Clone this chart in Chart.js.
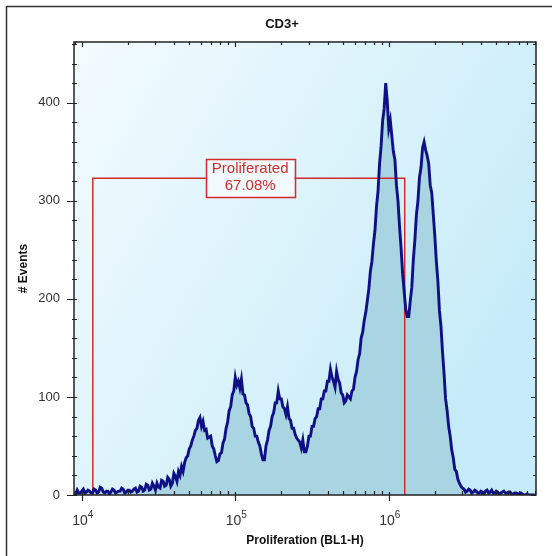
<!DOCTYPE html>
<html>
<head>
<meta charset="utf-8">
<script src="https://cdn.jsdelivr.net/npm/chart.js@4.4.1/dist/chart.umd.min.js"></script>
<style>
  html, body { margin: 0; padding: 0; background: #fff; }
  #wrap { position: relative; width: 552px; height: 556px; }
</style>
</head>
<body>
<div id="wrap"><canvas id="chart" width="552" height="556"></canvas></div>
<script>
const chartTitle = "CD3+";
const xTitle = "Proliferation (BL1-H)";
const yTitle = "# Events";

// histogram bins: first bin at 10^3.95, one bin every 0.01 decade
const binStartLog = 3.95;
const binWidthLog = 0.01;
const counts = [
  3, 1, 5, 2, 2, 4, 6, 2, 3, 5,
  4, 2, 2, 6, 5, 2, 3, 8, 7, 3,
  2, 4, 4, 1, 3, 6, 5, 2, 3, 4,
  4, 7, 6, 2, 3, 5, 5, 3, 4, 6,
  7, 3, 4, 9, 8, 4, 5, 11, 10, 5,
  6, 12, 9, 5, 12, 8, 7, 15, 14, 9,
  10, 18, 16, 9, 12, 22, 19, 14, 24, 20,
  29, 24, 33, 38, 40, 47, 50, 56, 60, 66,
  68, 76, 79, 70, 75, 66, 67, 58, 59, 60,
  50, 47, 40, 34, 35, 42, 43, 53, 57, 68,
  74, 86, 90, 102, 106, 120, 112, 116, 109, 118,
  103, 102, 94, 92, 83, 80, 70, 68, 60, 60,
  54, 50, 42, 36, 36, 50, 56, 66, 70, 80,
  84, 94, 94, 106, 98, 98, 90, 88, 82, 90,
  78, 76, 68, 68, 62, 58, 56, 54, 48, 56,
  44, 44, 50, 60, 60, 70, 70, 78, 80, 88,
  88, 98, 98, 106, 106, 116, 116, 128, 120, 116,
  110, 126, 118, 114, 104, 102, 94, 96, 102, 100,
  98, 106, 108, 120, 126, 138, 144, 160, 166, 178,
  186, 198, 210, 228, 238, 256, 270, 294, 310, 338,
  356, 382, 394, 420, 402, 374, 382, 366, 350, 342,
  316, 300, 274, 252, 226, 208, 190, 182, 182, 198,
  212, 240, 260, 286, 300, 324, 334, 354, 360, 352,
  346, 338, 316, 308, 286, 264, 238, 218, 188, 172,
  146, 124, 98, 86, 70, 60, 46, 38, 26, 24,
  16, 12, 9, 7, 6, 3, 4, 6, 5, 2,
  3, 5, 4, 2, 2, 4, 3, 1, 4, 5,
  2, 3, 5, 2, 2, 4, 3, 1, 2, 3,
  4, 2, 2, 3, 3, 1, 1, 2, 2, 1,
  1, 2, 1, 0, 0, 1, 0, 0, 0, 0,
  0
];

const xRange = [8900, 9100000];
const yRange = [0, 462];
const xTickExps = [4, 5, 6];
const yTicks = [0, 100, 200, 300, 400];

const gateEdges = [11800, 1270000];
const gateLevel = 323;
const gateLabelAt = 125000;
const gateText = ["Proliferated", "67.08%"];

const navy = "#0f0f86";
const red = "#d42a2a";
const font = "'Liberation Sans', Arial, sans-serif";

const histPoints = counts.map((c, i) => ({ x: Math.pow(10, binStartLog + i * binWidthLog), y: c }));
const gatePoints = [
  { x: gateEdges[0], y: 0 },
  { x: gateEdges[0], y: gateLevel },
  { x: gateEdges[1], y: gateLevel },
  { x: gateEdges[1], y: 0 }
];

const decor = {
  id: "decor",
  beforeDraw(chart) {
    const { ctx, chartArea: a } = chart;
    const g = ctx.createLinearGradient(a.left, a.top, a.right, a.top + a.height * 0.6);
    g.addColorStop(0, "#f3fbfe");
    g.addColorStop(1, "#c5ebf8");
    ctx.save();
    ctx.fillStyle = g;
    ctx.fillRect(a.left, a.top, a.width, a.height);
    ctx.restore();
  },
  afterDatasetsDraw(chart) {
    const { ctx, chartArea: a, scales } = chart;
    const xs = scales.x, ys = scales.y;
    ctx.save();

    // gate label box
    ctx.font = "15px " + font;
    const w = Math.max(...gateText.map(t => ctx.measureText(t).width)) + 12;
    const h = 38;
    const cx = xs.getPixelForValue(gateLabelAt);
    const cy = ys.getPixelForValue(gateLevel);
    ctx.fillStyle = "#f2fafd";
    ctx.fillRect(cx - w / 2, cy - h / 2, w, h);
    ctx.strokeStyle = red;
    ctx.lineWidth = 1.5;
    ctx.strokeRect(Math.round(cx - w / 2) + 0.5, Math.round(cy - h / 2) + 0.5, Math.round(w), h);
    ctx.fillStyle = red;
    ctx.textAlign = "center";
    ctx.textBaseline = "middle";
    ctx.fillText(gateText[0], cx, cy - 9);
    ctx.fillText(gateText[1], cx, cy + 8);

    // plot box
    ctx.strokeStyle = "#222";
    ctx.lineWidth = 1.5;
    ctx.strokeRect(a.left, a.top, a.width, a.height);

    // tick marks
    ctx.lineWidth = 1.2;
    ctx.beginPath();
    for (let v = 0; v <= yRange[1]; v += 20) {
      const y = Math.round(ys.getPixelForValue(v)) + 0.5;
      const major = v % 100 === 0;
      ctx.moveTo(a.left - (major ? 7 : 2), y);
      ctx.lineTo(a.left + 3, y);
      ctx.moveTo(a.right, y);
      ctx.lineTo(a.right - (major ? 5 : 3), y);
    }
    for (let d = 3; d <= 6; d++) {
      for (let m = 1; m <= 9; m++) {
        const v = m * Math.pow(10, d);
        if (v < xRange[0] || v > xRange[1]) continue;
        const x = Math.round(xs.getPixelForValue(v)) + 0.5;
        const major = m === 1;
        ctx.moveTo(x, a.bottom - (major ? 3 : 4));
        ctx.lineTo(x, a.bottom + (major ? 6 : 0));
        ctx.moveTo(x, a.top);
        ctx.lineTo(x, a.top + (major ? 5 : 3));
      }
    }
    ctx.stroke();

    // x tick labels, 10 with raised exponent
    ctx.fillStyle = "#333";
    ctx.textBaseline = "alphabetic";
    xTickExps.forEach(e => {
      const x = xs.getPixelForValue(Math.pow(10, e));
      ctx.font = "14px " + font;
      const bw = ctx.measureText("10").width;
      ctx.font = "10px " + font;
      const ew = ctx.measureText(String(e)).width;
      const x0 = x - (bw + ew) / 2 + 1;
      ctx.textAlign = "left";
      ctx.font = "14px " + font;
      ctx.fillText("10", x0, a.bottom + 30);
      ctx.font = "10px " + font;
      ctx.fillText(String(e), x0 + bw, a.bottom + 23);
    });

    // title
    ctx.fillStyle = "#111";
    ctx.font = "bold 13px " + font;
    ctx.textAlign = "center";
    ctx.textBaseline = "middle";
    ctx.fillText(chartTitle, 282, 24);

    // outer frame
    ctx.strokeStyle = "#333";
    ctx.lineWidth = 1.5;
    ctx.strokeRect(6.5, 6.5, 620, 620);
    ctx.restore();
  }
};

new Chart(document.getElementById("chart").getContext("2d"), {
  type: "line",
  data: {
    datasets: [
      {
        data: histPoints,
        borderColor: navy,
        borderWidth: 2.9,
        backgroundColor: "#a9d5e2",
        fill: "origin",
        pointRadius: 0,
        tension: 0,
        order: 0
      },
      {
        data: gatePoints,
        borderColor: red,
        borderWidth: 1.5,
        fill: false,
        pointRadius: 0,
        tension: 0,
        order: 1
      }
    ]
  },
  plugins: [decor],
  options: {
    responsive: false,
    animation: false,
    layout: { padding: { top: 42, right: 16, left: 0, bottom: 0 } },
    plugins: {
      legend: { display: false },
      tooltip: { enabled: false },
      filler: { drawTime: "beforeDatasetsDraw" }
    },
    scales: {
      x: {
        type: "logarithmic",
        min: xRange[0],
        max: xRange[1],
        afterFit: s => { s.height = 61; },
        grid: { display: false, drawTicks: false },
        border: { display: false },
        ticks: { display: false },
        title: {
          display: true,
          text: xTitle,
          color: "#111",
          font: { family: font, size: 12, weight: "bold" },
          padding: { top: 0, bottom: 8 }
        }
      },
      y: {
        min: yRange[0],
        max: yRange[1],
        afterBuildTicks: s => { s.ticks = yTicks.map(v => ({ value: v })); },
        afterFit: s => { s.width = 74; },
        grid: { display: false, drawTicks: false },
        border: { display: false },
        ticks: {
          padding: 14,
          color: "#333",
          font: { family: font, size: 13 }
        },
        title: {
          display: true,
          text: yTitle,
          color: "#111",
          font: { family: font, size: 12, weight: "bold" },
          padding: { top: 16, bottom: 0 }
        }
      }
    }
  }
});
</script>
</body>
</html>
